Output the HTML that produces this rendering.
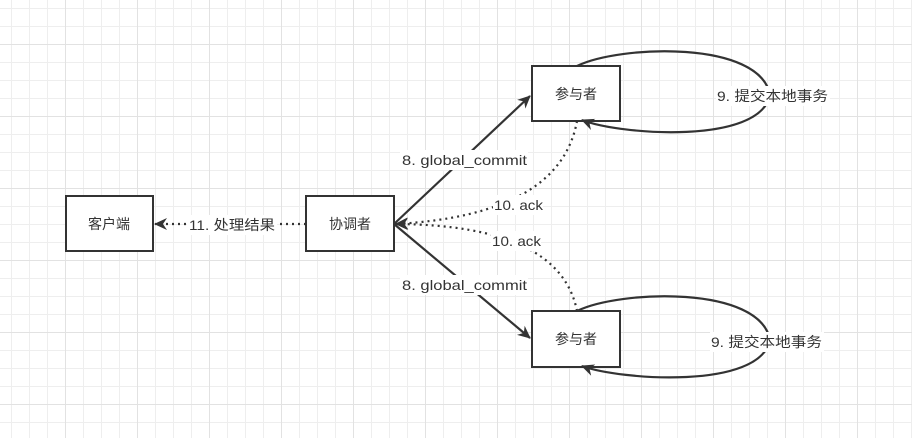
<!DOCTYPE html>
<html><head><meta charset="utf-8"><style>
html,body{margin:0;padding:0}
body{width:912px;height:438px;overflow:hidden;background-color:#fff;
background-image:
linear-gradient(#e2e2e2 1px,transparent 1px),linear-gradient(90deg,#e2e2e2 1px,transparent 1px),
linear-gradient(#eeeeee 1px,transparent 1px),linear-gradient(90deg,#eeeeee 1px,transparent 1px);
background-size:72px 72px,72px 72px,18px 18px,18px 18px;
background-position:0 44px,65px 0,0 8px,11px 0;}
svg{position:absolute;left:0;top:0}
text{font-family:"Liberation Sans","Noto Sans CJK SC",sans-serif;font-size:14px;fill:#333}
</style></head><body>
<svg width="912" height="438" viewBox="0 0 912 438">
<defs><marker id="a" markerWidth="14" markerHeight="14" refX="12" refY="7" orient="auto" markerUnits="userSpaceOnUse"><path d="M0,1 L13,7 L0,13 L4,7z" fill="#333"/></marker></defs>
<g fill="#fff" stroke="#333" stroke-width="2">
<rect x="66" y="196" width="87" height="55"/>
<rect x="306" y="196" width="88" height="55"/>
<rect x="532" y="66" width="88" height="55"/>
<rect x="532" y="311" width="88" height="56"/>
</g>
<g fill="none" stroke="#333" stroke-width="2.2">
<path d="M394,224 L530,96" marker-end="url(#a)"/>
<path d="M394,224 L530,338" marker-end="url(#a)"/>
<path d="M577,121 Q560,215 396,224" stroke-dasharray="2,4" marker-end="url(#a)"/>
<path d="M577,311 Q560,225 396,224" stroke-dasharray="2,4" marker-end="url(#a)"/>
<path d="M306,224 L155,224" stroke-dasharray="2,4" marker-end="url(#a)"/>
<path d="M577,66 C620,45 760,40 770,95 C760,145 620,135 582,120" marker-end="url(#a)"/>
<path d="M577,311 C620,290 760,285 770,340 C760,390 620,380 582,366" marker-end="url(#a)"/>
</g>
<g fill="#fff">
<rect x="400" y="150" width="128" height="20"/>
<rect x="400" y="275" width="128" height="20"/>
<rect x="493" y="195" width="50" height="20"/>
<rect x="491" y="231" width="50" height="20"/>
<rect x="187" y="215" width="90" height="20"/>
<rect x="716" y="86" width="114" height="20"/>
<rect x="710" y="332" width="114" height="20"/>
</g>
<text x="109" y="229" text-anchor="middle">客户端</text>
<text x="350" y="229" text-anchor="middle">协调者</text>
<text x="576" y="99" text-anchor="middle">参与者</text>
<text x="576" y="344" text-anchor="middle">参与者</text>
<text x="402" y="165" textLength="125" lengthAdjust="spacingAndGlyphs">8. global_commit</text>
<text x="402" y="290" textLength="125" lengthAdjust="spacingAndGlyphs">8. global_commit</text>
<text x="494" y="210" textLength="49" lengthAdjust="spacingAndGlyphs">10. ack</text>
<text x="492" y="246" textLength="49" lengthAdjust="spacingAndGlyphs">10. ack</text>
<text x="189" y="230" textLength="86" lengthAdjust="spacingAndGlyphs">11. 处理结果</text>
<text x="717" y="101" textLength="111" lengthAdjust="spacingAndGlyphs">9. 提交本地事务</text>
<text x="711" y="347" textLength="111" lengthAdjust="spacingAndGlyphs">9. 提交本地事务</text>
</svg>
</body></html>
